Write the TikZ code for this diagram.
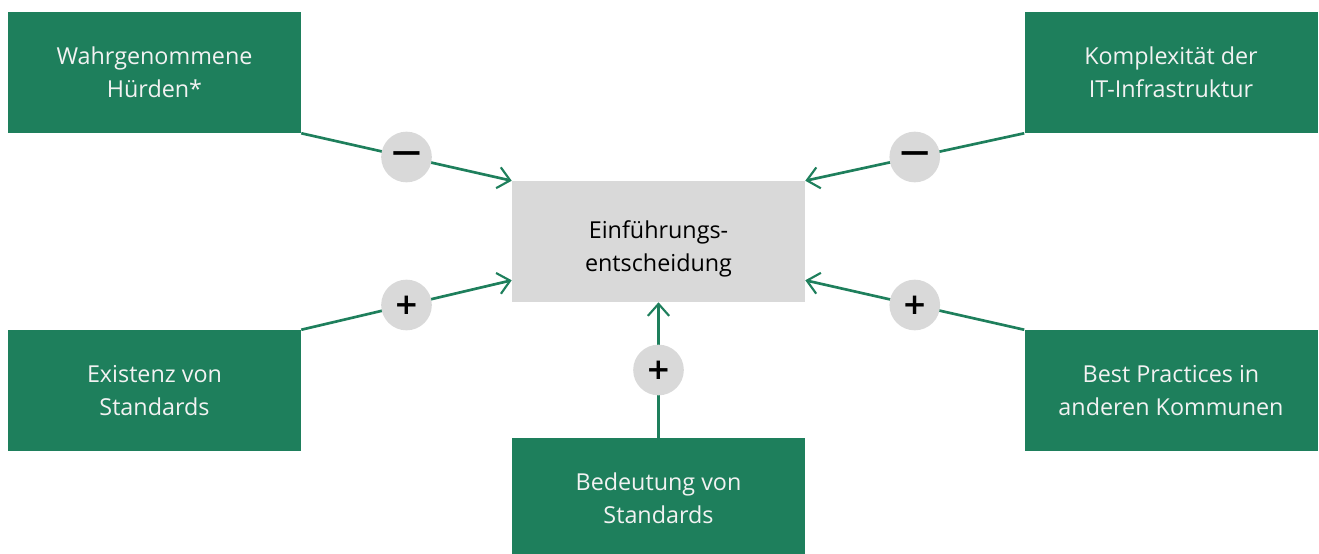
\documentclass[tikz,border=0pt]{standalone}
\usepackage{fontspec}
\setmainfont{Open Sans}
\newfontfamily\signfont{DejaVu Sans}
\usetikzlibrary{arrows.meta}
\definecolor{boxgreen}{HTML}{1E7F5C}
\definecolor{boxgray}{HTML}{D9D9D9}
\definecolor{lighttext}{HTML}{F2F2F2}
\tikzset{
  factor/.style={fill=boxgreen, text=lighttext, minimum width=219.75pt, minimum height=90.75pt,
    inner sep=0pt, align=center, font=\fontsize{17.5}{24.75}\selectfont},
  decision/.style={factor, fill=boxgray, text=black},
  link/.style={draw=boxgreen, line width=2pt, -{Straight Barb[length=9pt,width=16pt,line width=1.6pt]}},
  sign/.style={circle, fill=boxgray, minimum size=38pt, inner sep=0pt,
    font=\signfont\bfseries\fontsize{22}{22}\selectfont}
}
\begin{document}
\begin{tikzpicture}[x=0.75pt, y=-0.75pt]
  \useasboundingbox (0,0) rectangle (1319,553);
  % factor boxes
  \node[factor] (hurdles) at (154.5,72.5) {Wahrgenommene\\Hürden*};
  \node[factor] (complex) at (1171,72.5) {Komplexität der\\IT-Infrastruktur};
  \node[factor] (standards) at (154.5,390.5) {Existenz von\\Standards};
  \node[factor] (practices) at (1171,390.5) {Best Practices in\\anderen Kommunen};
  \node[factor] (meaning) at (658.5,498.5) {Bedeutung von\\Standards};
  % decision box (text set slightly below the middle)
  \node[decision] (decide) at (658.5,241.5)
    {\raisebox{-5.5pt}[\height][\depth]{\begin{tabular}{@{}c@{}}Einführungs-\\entscheidung\end{tabular}}};
  % arrow end points on the lower part of the decision box
  \coordinate (inLL) at ([yshift=16.5pt]decide.south west);
  \coordinate (inLR) at ([yshift=16.5pt]decide.south east);
  % influences
  \draw[link] (hurdles.south east) -- node[sign] {—} (decide.north west);
  \draw[link] (complex.south west) -- node[sign] {—} (decide.north east);
  \draw[link] (standards.north east) -- node[sign] {+} (inLL);
  \draw[link] (practices.north west) -- node[sign] {+} (inLR);
  \draw[link] (meaning.north) -- node[sign] {+} (decide.south);
\end{tikzpicture}
\end{document}
